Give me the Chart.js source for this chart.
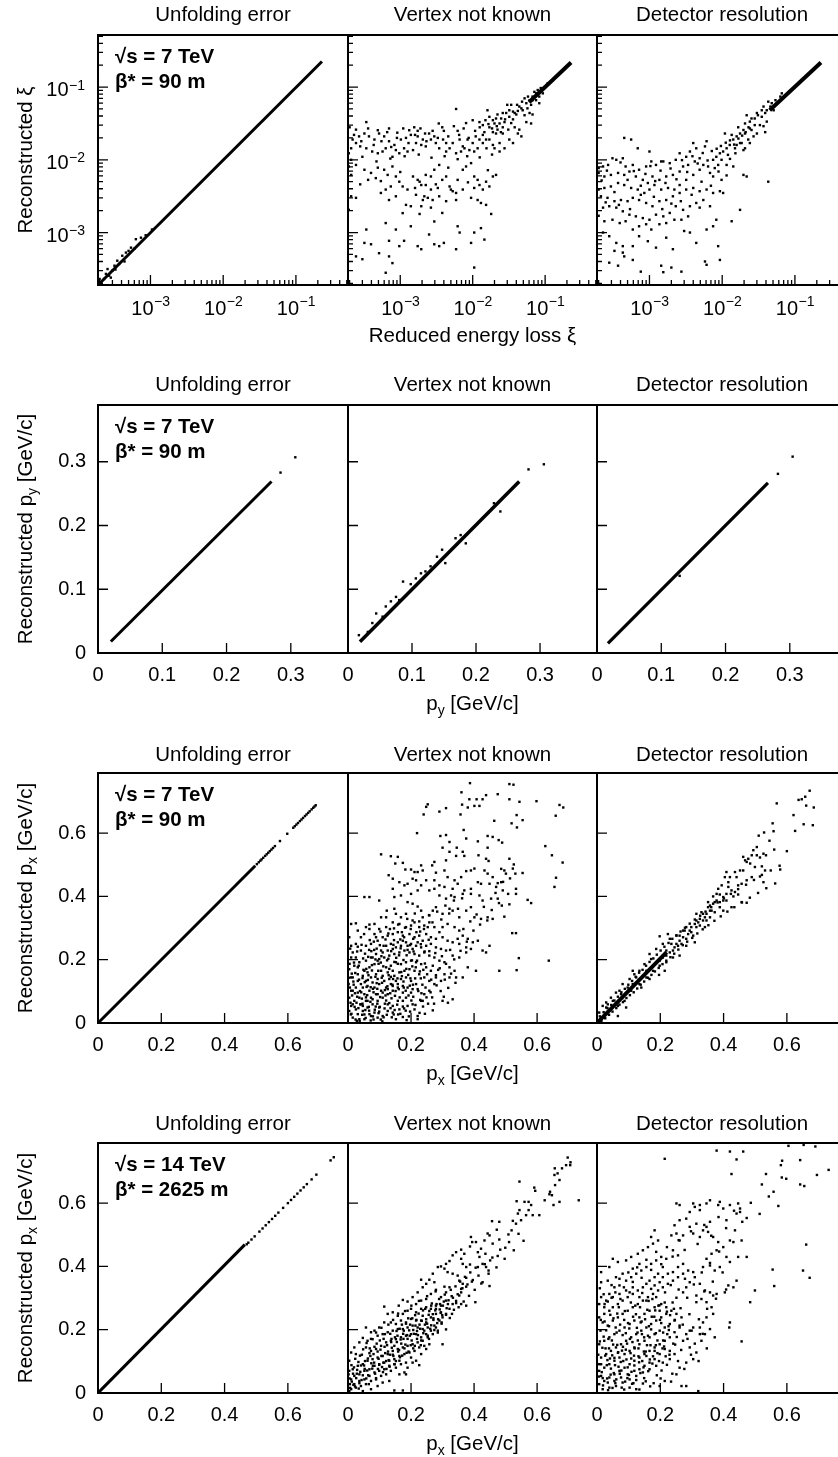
<!DOCTYPE html>
<html><head><meta charset="utf-8">
<script src="https://cdn.jsdelivr.net/npm/chart.js@4.4.1/dist/chart.umd.min.js"></script>
<style>
html,body{margin:0;padding:0;background:#fff;}
body{width:838px;height:1457px;overflow:hidden;position:relative;font-family:'Liberation Sans',Arial,sans-serif;color:#000}
canvas{position:absolute}
.t,.yt,.ann{position:absolute;white-space:nowrap;font-size:20.5px;line-height:1}
.t{transform:translate(-50%,-50%)}
.yt{transform:translate(-50%,-50%) rotate(-90deg)}
.ann{font-weight:bold;transform:translateY(-50%)}
.s{font-size:14px;position:relative;top:5px}
</style></head><body>
<script>
// ---------------- DATA ----------------
const panelTitles = ['Unfolding error','Vertex not known','Detector resolution'];
const xAxisTitles = ['Reduced energy loss ξ','p<span class="s">y</span> [GeV/c]','p<span class="s">x</span> [GeV/c]','p<span class="s">x</span> [GeV/c]'];
const yAxisTitles = ['Reconstructed ξ','Reconstructed p<span class="s">y</span> [GeV/c]','Reconstructed p<span class="s">x</span> [GeV/c]','Reconstructed p<span class="s">x</span> [GeV/c]'];
const annotations = [['√s = 7 TeV','β* = 90 m'],['√s = 7 TeV','β* = 90 m'],['√s = 7 TeV','β* = 90 m'],['√s = 14 TeV','β* = 2625 m']];

const xiRange = [1.9e-4, 0.52];
const pyRange = [0, 0.389];
const pxRange = [0, 0.79];
const xiTickExps = [-3, -2, -1];
const pyTicks = [0, 0.1, 0.2, 0.3];
const pxTicks = [0, 0.2, 0.4, 0.6];

// Row 1: reduced energy loss xi (log-log)
const xiUnfoldLine = [[1.9e-4,1.9e-4],[.228,.225]];
const xiUnfoldPts = [[2.1e-4,2.07e-4],[2.44e-4,2.7e-4],[2.7e-4,2.55e-4],[3.2e-4,3.5e-4],[3.5e-4,4.1e-4],[4.1e-4,4.8e-4],[4.6e-4,5.3e-4],[5.4e-4,6.2e-4],[6.3e-4,8.1e-4],[7.4e-4,8.5e-4],[2.3e-4,2.3e-4],[3.0e-4,3.0e-4],[2.57e-4,3.15e-4],[3.7e-4,3.7e-4],[2.85e-4,2.4e-4],[4.4e-4,4.0e-4],[5.0e-4,5.6e-4],[2.0e-4,2.3e-4],[3.3e-4,3.1e-4],[8.6e-4,9.2e-4],[1.05e-3,1.1e-3],[6.0e-4,6.0e-4]];
const xiVertexBand = [[.06,.062],[.228,.218]];
const xiVertexPts = [[5.9e-3,.05],[.030,.057],[3.4e-4,.033],[2.0e-4,.028],[2.45e-4,.026],[4.9e-4,.0255],[7.0e-4,.027],[9.1e-4,.0236],[1.33e-3,.0255],[1.74e-3,.025],[1.56e-3,.028],[2.2e-3,.023],[3.4e-3,.0316],[4.0e-3,.025],[6.2e-3,.025],[8.1e-3,.032],[.010,.035],[.0124,.033],[.0138,.030],[.015,.035],[.017,.028],[.020,.0316],[.022,.042],[.0247,.037],[.0275,.033],[.029,.044],[.032,.039],[.036,.046],[.040,.042],[.044,.054],[.049,.048],[.055,.060],[.061,.066],[.067,.074],[.075,.082],[.083,.074],[.064,.057],[.052,.041],[.057,.051],[.055,.033],[.064,.0316],[.044,.026],[.038,.028],[.026,.023],[.0235,.017],[.019,.016],[.0155,.0144],[.017,.019],[.021,.023],[.0124,.019],[.011,.021],[.0138,.022],[.010,.017],[8.5e-3,.019],[7.3e-3,.0153],[6.9e-3,.013],[5.9e-3,.0123],[4.8e-3,.0144],[4.3e-3,.017],[3.9e-3,.019],[3.1e-3,.017],[2.65e-3,.019],[2.25e-3,.0153],[1.95e-3,.016],[1.65e-3,.017],[1.5e-3,.0136],[1.26e-3,.013],[1.13e-3,.0144],[9.7e-4,.0123],[8.7e-4,.0136],[7.8e-4,.011],[6.3e-4,.0144],[5.7e-4,.013],[4.9e-4,.0123],[4.1e-4,.013],[3.4e-4,.0144],[2.8e-4,.0153],[2.45e-4,.017],[2.1e-4,.0144],[1.95e-4,.0123],[2.2e-4,.019],[2.7e-4,.021],[3.2e-4,.023],[3.7e-4,.021],[4.4e-4,.019],[5.1e-4,.023],[6.0e-4,.021],[7.0e-4,.018],[8.3e-4,.016],[1.02e-3,.019],[1.2e-3,.020],[1.4e-3,.022],[1.74e-3,.021],[2.05e-3,.019],[2.5e-3,.023],[2.95e-3,.021],[3.45e-3,.0144],[4.3e-3,.013],[5.3e-3,.017],[6.6e-3,.019],[7.7e-3,.0144],[9e-3,.0136],[.0105,.013],[.0117,.0144],[.0138,.017],[.0153,.019],[.020,.0144],[.0235,.013],[.0275,.0144],[.032,.019],[.036,.017],[.042,.023],[.047,.021],[2.1e-4,.01],[1.95e-4,8.1e-3],[2.45e-4,8.5e-3],[3.2e-4,7.3e-3],[3.95e-4,6.6e-3],[3.6e-4,5.3e-3],[4.6e-4,5.6e-3],[5.4e-4,5.1e-3],[6.0e-4,7.3e-3],[6.7e-4,6.2e-3],[7.8e-4,8.1e-3],[8.7e-4,5.9e-3],[9.7e-4,5.0e-3],[7.4e-4,4.3e-3],[6.3e-4,3.9e-3],[5.4e-4,3.5e-3],[8.7e-4,3.15e-3],[7.0e-4,2.8e-3],[1.08e-3,4.3e-3],[1.26e-3,3.9e-3],[1.5e-3,5.9e-3],[1.74e-3,5.3e-3],[1.95e-3,4.5e-3],[2.25e-3,6.2e-3],[2.65e-3,5.9e-3],[2.95e-3,7.3e-3],[3.45e-3,8.5e-3],[3.8e-3,5.3e-3],[4.3e-3,5.9e-3],[4.8e-3,4.3e-3],[5.3e-3,3.7e-3],[6.2e-3,5.3e-3],[7.3e-3,7.3e-3],[8.1e-3,8.1e-3],[9.5e-3,9e-3],[.0105,5.9e-3],[.0117,5.3e-3],[.0124,4.5e-3],[.0138,3.9e-3],[.0105,4.1e-3],[9.5e-3,3.0e-3],[.0117,2.8e-3],[.013,2.55e-3],[.0153,2.4e-3],[.019,5.9e-3],[.021,6.2e-3],[.0153,5.0e-3],[.017,4.3e-3],[7.3e-3,3.9e-3],[5.9e-3,3.5e-3],[4.3e-3,2.7e-3],[3.45e-3,3.15e-3],[2.8e-3,2.8e-3],[2.4e-3,3.0e-3],[2.15e-3,3.15e-3],[1.95e-3,2.3e-3],[1.65e-3,3.3e-3],[1.4e-3,2.3e-3],[1.2e-3,2.4e-3],[1.08e-3,1.85e-3],[1.85e-3,1.8e-3],[2.65e-3,2.2e-3],[1.4e-3,1.22e-3],[1.13e-3,7.7e-4],[9.7e-4,6.5e-4],[8.7e-4,1.1e-3],[7.0e-4,7.7e-4],[6.3e-4,1.35e-3],[5.1e-4,5.2e-4],[3.4e-4,1.1e-3],[3.2e-4,7.2e-4],[3.95e-4,6.9e-4],[2.45e-4,4.7e-4],[3.0e-4,4.3e-4],[7.0e-4,4.7e-4],[7.8e-4,3.8e-4],[6.3e-4,2.8e-4],[1.74e-3,6.5e-4],[1.95e-3,5.9e-4],[2.5e-3,9.4e-4],[2.95e-3,6.9e-4],[3.45e-3,6.5e-4],[4.0e-3,7.2e-4],[5.9e-3,5.9e-4],[6.6e-3,1.0e-3],[6.2e-3,1.22e-3],[9.5e-3,7.2e-4],[.0105,1.0e-3],[.013,1.15e-3],[.0145,8e-4],[.0105,3.3e-4],[.018,1.8e-3],[3.8e-3,1.86e-3],[2.95e-3,1.42e-3],[2.05e-3,2.8e-3],[5.9e-3,2.8e-3],[5.0e-3,3.9e-3],[2.65e-3,3.9e-3],[2.25e-3,4.5e-3],[1.85e-3,5.0e-3],[3.3e-3,4.1e-3],[2.1e-4,6.2e-3],[2.1e-4,3.15e-3],[1.95e-4,2.05e-3],[2.45e-4,3.0e-3],[.038,.044],[.042,.047],[.047,.051],[.041,.057],[.048,.063],[.052,.070],[.058,.074],[.067,.066],[.071,.086],[.079,.091],[.087,.097],[.098,.1],[.093,.082],[.108,.112],[.075,.066],[.083,.060],[.061,.044],[.067,.042],[.036,.036],[.034,.032],[.0235,.0316],[.026,.028],[.031,.026],[.022,.026],[.019,.024],[.017,.039],[.016,.048],[.019,.035],[.021,.037],[.026,.044],[.032,.048],[.034,.057],
[2.3e-4,.022],[2.9e-4,.018],[3.6e-4,.027],[4.3e-4,.016],[5.5e-4,.018],[6.6e-4,.024],[7.5e-4,.015],[9.0e-4,.02],[1.1e-3,.027],[1.3e-3,.017],[1.6e-3,.022],[1.9e-3,.027],[2.3e-3,.018],[2.8e-3,.025],[3.3e-3,.02],[3.8e-3,.028],[4.6e-3,.021],[5.5e-3,.029],[6.5e-3,.022],[7.5e-3,.027],[8.8e-3,.02],[.0108,.025],[.0125,.028],[.0145,.024],[.0165,.031],[.0185,.027],[.0215,.029],[.0245,.024],[.028,.036],[3.0e-4,.011],[4.7e-4,9.5e-3],[7.3e-4,.0104],[1.15e-3,.0112],[1.8e-3,.0118],[2.7e-3,.0107],[4.1e-3,.0112],[6.2e-3,.0102],[8.4e-3,.0112],[.0125,.0108],[.0185,.0118],[2.8e-4,4.6e-3],[4.9e-4,7.8e-3],[1.0e-3,6.8e-3],[1.6e-3,4.1e-3],[3.1e-3,4.6e-3],[4.6e-3,7.8e-3],[8.6e-3,4.9e-3],[.0162,7.2e-3]];
const xiDetBand = [[.045,.048],[.228,.218]];
const xiDetPts = [[.043,.063],[.037,.054],[.031,.041],[.028,.037],[.024,.0335],[.0217,.041],[.0196,.0257],[.0176,.023],[.0158,.021],[.0142,.019],[.0127,.016],[.0115,.0144],[.0103,.013],[9.3e-3,.0123],[8.3e-3,.011],[7.5e-3,.01],[.0109,.023],[.0135,.022],[.0166,.028],[.0206,.0316],[.0253,.0257],[.033,.030],[.0228,.019],[.0185,.017],[.015,.0144],[.012,.0117],[9.8e-3,.01],[8.8e-3,8.5e-3],[7.9e-3,7.7e-3],[.0115,8.5e-3],[.0142,8.1e-3],[.0196,6.2e-3],[.0217,5.9e-3],[.0176,2.05e-3],[.0135,1.43e-3],[.043,5.0e-3],[9.8e-3,5.3e-3],[7.5e-3,5.9e-3],[6.8e-3,6.6e-3],[6.1e-3,.018],[5.8e-3,.0153],[4.4e-3,.0144],[4.0e-3,.017],[3.6e-3,.013],[3.2e-3,.011],[2.6e-3,.0123],[2.3e-3,.01],[1.9e-3,9.0e-3],[1.55e-3,9.5e-3],[1.23e-3,8.5e-3],[1.06e-3,9.5e-3],[9.0e-4,8.1e-3],[7.2e-4,7.3e-3],[5.9e-4,8.5e-3],[4.7e-4,8.1e-3],[4.3e-4,.0105],[3.5e-4,.01],[3.1e-4,.0105],[2.7e-4,8.5e-3],[2.3e-4,8.1e-3],[2.0e-4,7.7e-3],[2.0e-4,6.6e-3],[2.4e-4,5.9e-3],[2.95e-4,6.2e-3],[3.7e-4,6.6e-3],[4.5e-4,6.2e-3],[5.3e-4,6.9e-3],[6.5e-4,5.9e-3],[8.1e-4,5.3e-3],[9.5e-4,4.8e-3],[1.1e-3,5.9e-3],[1.37e-3,5.3e-3],[1.7e-3,5.9e-3],[2.1e-3,6.2e-3],[2.6e-3,6.9e-3],[2.9e-3,8.1e-3],[3.4e-3,8.5e-3],[4.2e-3,9.5e-3],[4.9e-3,.0105],[5.5e-3,8.5e-3],[6.4e-3,8.1e-3],[4.9e-3,7.3e-3],[4.0e-3,6.2e-3],[3.2e-3,5.3e-3],[2.6e-3,4.5e-3],[2.2e-3,3.9e-3],[1.8e-3,4.1e-3],[1.45e-3,3.9e-3],[1.17e-3,4.5e-3],[1.0e-3,3.9e-3],[8.5e-4,3.5e-3],[6.9e-4,3.9e-3],[5.6e-4,4.1e-3],[4.5e-4,4.5e-3],[3.7e-4,4.8e-3],[2.95e-4,4.3e-3],[2.4e-4,4.1e-3],[2.0e-4,3.9e-3],[2.15e-4,3.15e-3],[2.65e-4,3.0e-3],[3.3e-4,2.7e-3],[4.05e-4,2.8e-3],[5.0e-4,2.7e-3],[5.9e-4,3.0e-3],[7.2e-4,2.8e-3],[9.0e-4,2.55e-3],[1.1e-3,2.3e-3],[1.37e-3,2.7e-3],[1.7e-3,2.8e-3],[2.1e-3,3.15e-3],[2.6e-3,3.5e-3],[3.2e-3,3.9e-3],[4.0e-3,4.1e-3],[4.9e-3,3.7e-3],[6.1e-3,3.9e-3],[7.5e-3,3.5e-3],[9.3e-3,3.7e-3],[5.5e-3,2.8e-3],[4.4e-3,2.55e-3],[3.6e-3,2.3e-3],[2.9e-3,2.05e-3],[2.3e-3,2.3e-3],[1.9e-3,1.86e-3],[1.55e-3,1.67e-3],[1.23e-3,1.76e-3],[1.0e-3,1.5e-3],[8.1e-4,1.58e-3],[6.5e-4,1.67e-3],[5.3e-4,1.76e-3],[4.3e-4,1.96e-3],[3.5e-4,2.2e-3],[2.8e-4,2.3e-3],[2.3e-4,2.2e-3],[2.0e-4,1.7e-3],[2.4e-4,1.43e-3],[3.1e-4,1.5e-3],[3.9e-4,1.35e-3],[4.7e-4,1.43e-3],[5.9e-4,1.1e-3],[7.2e-4,1.22e-3],[9.0e-4,1.3e-3],[1.06e-3,1.1e-3],[1.37e-3,1.3e-3],[1.7e-3,1.35e-3],[2.2e-3,1.5e-3],[2.75e-3,1.5e-3],[3.4e-3,1.67e-3],[4.9e-3,2.2e-3],[6.8e-3,2.3e-3],[8.3e-3,1.5e-3],[.0103,3.5e-3],[4.5e-4,.020],[5.6e-4,.019],[6.9e-4,.0144],[1.0e-3,.013],[1.45e-3,9.5e-3],[2.3e-4,1.0e-3],[2.8e-4,8.9e-4],[3.5e-4,7.2e-4],[4.3e-4,6.5e-4],[3.3e-4,5.6e-4],[2.8e-4,3.85e-4],[4.3e-4,5.3e-4],[5.9e-4,6.5e-4],[7.2e-4,8.9e-4],[9.5e-4,7.6e-4],[1.23e-3,6.2e-4],[1.7e-3,8.5e-4],[2.1e-3,5.9e-4],[3.0e-3,1.05e-3],[3.6e-3,1.0e-3],[4.4e-3,7.2e-4],[6.1e-3,1.1e-3],[7.5e-3,1.22e-3],[8.8e-3,6.5e-4],[5.8e-3,4.0e-4],[6.1e-3,3.6e-4],[9.3e-3,4.2e-4],[1.45e-3,3.5e-4],[1.55e-3,2.85e-4],[2.0e-3,3.3e-4],[2.75e-3,2.9e-4],[7.6e-4,2.9e-4],[5.9e-4,4.2e-4],[4.5e-4,4.7e-4],[3.7e-4,3.5e-4],[.035,.039],[.039,.044],[.041,.048],[.046,.054],[.048,.06],[.054,.066],[.056,.06],[.063,.074],[.066,.082],[.051,.048],[.041,.0335],[.037,.029],[.030,.023],[.027,.021],[.028,.030],[.024,.027],[.0206,.023],[.0253,.037],[.030,.044],[.035,.048],[.0176,.017],[.0158,.016],[.039,.024],[.0196,.0136],[.0206,.0144],[.024,.017],
[2.2e-4,5.2e-3],[2.6e-4,7.1e-3],[3.3e-4,3.6e-3],[4.0e-4,9.2e-3],[5.0e-4,5.3e-3],[6.1e-4,7.0e-3],[7.6e-4,4.4e-3],[8.8e-4,6.4e-3],[1.03e-3,8.2e-3],[1.2e-3,5.1e-3],[1.42e-3,7.1e-3],[1.66e-3,4.8e-3],[1.95e-3,7.6e-3],[2.35e-3,5.4e-3],[2.8e-3,9.9e-3],[3.3e-3,6.8e-3],[3.9e-3,.0112],[4.6e-3,8.9e-3],[5.4e-3,.0124],[6.3e-3,.0098],[7.2e-3,.0132],[8.4e-3,.0142],[9.6e-3,.0155],[.0112,.0172],[.0128,.0185],[.0146,.0162],[.0167,.0196],[.0188,.0215],[.021,.024],[.023,.028],[2.5e-4,2.6e-3],[3.8e-4,2.4e-3],[5.4e-4,2.1e-3],[7.6e-4,3.3e-3],[1.15e-3,3.1e-3],[1.5e-3,2.1e-3],[2.0e-3,2.5e-3],[2.7e-3,2.7e-3],[3.8e-3,3.3e-3],[5.2e-3,5.0e-3],[7.0e-3,4.4e-3],[8.9e-3,6.9e-3],[.0115,6.1e-3],[.0128,.0103],[.0152,.0123]];

// Row 2: p_y (7 TeV, 90 m)
const pyUnfoldLine = [[.020,.018],[.270,.269]];
const pyUnfoldPts = [[.284,.283],[.307,.307]];
const pyVertexLine = [[.0187,.0178],[.2675,.269]];
const pyVertexPts = [[.017,.028],[.044,.062],[.067,.081],[.075,.088],[.086,.112],[.080,.083],[.098,.108],[.121,.128],[.147,.162],[.152,.141],[.176,.185],[.184,.172],[.228,.235],[.238,.222],[.031,.033],[.038,.047],[.054,.057],[.059,.073],[.106,.117],[.114,.125],[.129,.136],[.139,.151],[.168,.180],[.282,.288],[.306,.296]];
const pyDetLine = [[.017,.015],[.266,.267]];
const pyDetPts = [[.2815,.281],[.3044,.308],[.1286,.121]];

// Row 3: p_x (7 TeV, 90 m)
const px7UnfoldLine = [[0,0],[.497,.497]];
const px7UnfoldPts = [[.502,.502],[.508,.508],[.513,.513],[.517,.517],[.522,.522],[.528,.528],[.533,.533],[.538,.538],[.543,.543],[.548,.548],[.553,.553],[.559,.559],[.575,.575],[.598,.598],[.617,.617],[.622,.622],[.627,.627],[.632,.632],[.638,.638],[.643,.643],[.648,.648],[.654,.654],[.659,.659],[.664,.664],[.669,.669],[.675,.675],[.680,.680],[.684,.684],[.688,.688]];
const px7VertexPts = [[.387,.758],[.512,.755],[.525,.753],[.360,.729],[.475,.723],[.438,.720],[.385,.707],[.408,.707],[.427,.707],[.512,.707],[.544,.699],[.598,.701],[.253,.691],[.248,.683],[.362,.690],[.401,.686],[.417,.686],[.380,.681],[.311,.679],[.290,.668],[.240,.659],[.357,.659],[.671,.689],[.683,.681],[.659,.655],[.464,.639],[.554,.641],[.519,.631],[.536,.618],[.535,.657],[.219,.600],[.367,.610],[.293,.591],[.311,.594],[.322,.572],[.375,.583],[.443,.591],[.459,.588],[.478,.578],[.489,.570],[.412,.574],[.300,.554],[.345,.554],[.364,.541],[.443,.554],[.322,.541],[.311,.514],[.343,.528],[.369,.528],[.414,.530],[.438,.519],[.446,.512],[.512,.519],[.526,.501],[.523,.488],[.496,.482],[.486,.487],[.626,.559],[.647,.530],[.681,.507],[.660,.459],[.655,.430],[.105,.533],[.136,.527],[.158,.525],[.150,.504],[.174,.506],[.200,.485],[.182,.485],[.232,.498],[.237,.482],[.211,.477],[.221,.477],[.274,.509],[.267,.498],[.279,.475],[.306,.482],[.316,.461],[.338,.451],[.359,.461],[.375,.480],[.390,.482],[.401,.488],[.433,.482],[.443,.472],[.459,.461],[.475,.442],[.486,.445],[.501,.472],[.531,.472],[.554,.474],[.129,.467],[.142,.456],[.163,.445],[.179,.435],[.189,.440],[.205,.456],[.216,.451],[.232,.435],[.248,.451],[.274,.451],[.290,.435],[.306,.430],[.332,.424],[.348,.440],[.369,.419],[.390,.424],[.412,.445],[.422,.440],[.449,.440],[.470,.430],[.491,.419],[.533,.424],[.533,.408],[.570,.389],[.581,.379],[.142,.424],[.147,.398],[.168,.403],[.200,.408],[.221,.419],[.258,.419],[.274,.424],[.290,.403],[.311,.393],[.327,.403],[.338,.398],[.364,.408],[.390,.408],[.417,.403],[.427,.387],[.454,.393],[.475,.393],[.488,.371],[.512,.375],[.052,.398],[.068,.398],[.010,.313],[.025,.315],[.068,.311],[.099,.387],[.105,.334],[.123,.355],[.147,.361],[.152,.345],[.168,.334],[.184,.345],[.189,.382],[.205,.377],[.221,.368],[.232,.355],[.258,.340],[.269,.355],[.279,.366],[.300,.345],[.322,.361],[.332,.355],[.353,.334],[.375,.355],[.390,.366],[.401,.334],[.422,.329],[.443,.334],[.459,.329],[.496,.336],[.521,.284],[.533,.284],[.542,.205],[.637,.197],[.535,.167],[.480,.165],[.406,.165],[.380,.176],[.364,.144],[.343,.144],[.438,.223],[.427,.229],[.449,.244],[.412,.260],[.396,.255],[.380,.266],[.364,.276],[.353,.292],[.338,.303],[.316,.313],[.300,.303],[.290,.287],[.274,.303],[.258,.318],[.242,.308],[.226,.303],[.211,.318],[.200,.308],[.184,.303],[.163,.313],[.142,.318],[.121,.303],[.099,.297],[.084,.281],[.068,.297],[.041,.271],[.025,.250],[.010,.244],[.015,.223],[.041,.229],[.057,.244],[.073,.250],[.094,.260],[.110,.271],[.126,.276],[.142,.281],[.158,.287],[.174,.276],[.195,.281],[.211,.271],[.226,.276],[.248,.281],[.263,.271],[.279,.266],[.300,.271],[.316,.260],[.332,.255],[.353,.250],[.375,.239],[.390,.234],[.375,.223],[.353,.207],[.332,.213],[.311,.229],[.295,.234],[.279,.239],[.263,.250],[.248,.244],[.232,.239],[.216,.244],[.200,.250],[.184,.255],[.168,.244],[.152,.239],[.136,.250],[.121,.244],[.105,.229],[.089,.218],[.073,.207],[.057,.197],[.036,.192],[.020,.181],[.004,.170],[.010,.144],[.031,.154],[.052,.165],[.068,.176],[.084,.186],[.099,.202],[.115,.207],[.131,.213],[.147,.218],[.163,.223],[.179,.229],[.195,.223],[.211,.218],[.226,.213],[.242,.223],[.258,.213],[.274,.207],[.290,.197],[.306,.192],[.322,.176],[.338,.165],[.322,.144],[.306,.154],[.295,.133],[.279,.144],[.263,.165],[.248,.176],[.232,.186],[.216,.192],[.200,.197],[.184,.192],[.168,.186],[.152,.192],[.136,.181],[.121,.176],[.105,.165],[.089,.154],[.073,.144],[.057,.133],[.041,.123],[.025,.112],[.010,.102],[.004,.080],[.020,.070],[.036,.080],[.052,.091],[.068,.102],[.084,.112],[.099,.123],[.115,.133],[.131,.139],[.147,.149],[.163,.160],[.179,.165],[.195,.170],[.211,.165],[.226,.154],[.242,.144],[.258,.133],[.274,.123],[.258,.102],[.242,.091],[.232,.070],[.205,.059],[.184,.080],[.174,.096],[.158,.112],[.142,.102],[.126,.091],[.110,.080],[.094,.070],[.078,.059],[.062,.049],[.047,.038],[.031,.028],[.015,.017],[.004,.038],[.010,.054],[.041,.059],[.057,.070],[.073,.080],[.089,.091],[.105,.102],[.121,.112],[.136,.123],[.152,.133],[.168,.139],[.184,.144],[.200,.133],[.216,.123],[.221,.107],[.200,.096],[.189,.054],[.163,.043],[.142,.054],[.126,.038],[.110,.022],[.094,.017],[.073,.022],[.052,.012],[.036,.012],[.221,.022],[.221,.012],[.152,.012],[.174,.019],[.269,.040],[.300,.070],[.332,.075],[.237,.070],[.211,.043],[.015,.059],[.025,.043],[.047,.054],[.062,.070],[.078,.075],[.094,.091],[.110,.096],[.126,.107],[.142,.117],[.158,.123],[.174,.117],[.189,.112],[.205,.107],[.174,.070],[.158,.070],[.142,.033],[.126,.059],[.099,.049],[.084,.033],[.068,.028],[.015,.102],[.031,.096],[.047,.112],[.062,.117],[.078,.128],[.094,.139],[.110,.149],[.126,.160],[.142,.165],[.015,.144],[.031,.133],[.047,.149],[.062,.160],[.078,.207],[.094,.197],[.110,.223],[.126,.229],[.142,.234],[.158,.255],[.174,.260],[.189,.244],[.205,.234],[.221,.255],[.237,.260],[.253,.303],[.205,.324],[.237,.334],[.121,.334],[.084,.313],[.057,.303],[.031,.292],[.004,.271],[.010,.207],[.002,.123],[.025,.207],
[.013,.087],[.027,.064],[.038,.101],[.044,.077],[.053,.129],[.061,.088],[.066,.051],[.072,.113],[.081,.097],[.087,.146],[.093,.061],[.102,.082],[.108,.127],[.117,.104],[.121,.071],[.129,.151],[.134,.094],[.141,.121],[.149,.086],[.157,.141],[.161,.107],[.169,.161],[.176,.131],[.183,.102],[.191,.152],[.196,.118],[.204,.179],[.213,.141],[.219,.197],[.228,.163],[.236,.121],[.244,.188],[.251,.154],[.017,.131],[.023,.158],[.034,.181],[.046,.142],[.058,.171],[.064,.209],[.076,.166],[.083,.231],[.097,.187],[.106,.211],[.113,.244],[.124,.198],[.137,.227],[.146,.262],[.153,.206],[.167,.236],[.178,.271],[.186,.214],[.197,.246],[.208,.226],[.217,.287],[.231,.249],[.243,.226],[.256,.263],[.011,.029],[.024,.011],[.033,.047],[.045,.026],[.056,.016],[.067,.039],[.079,.021],[.088,.052],[.097,.031],[.104,.011],[.116,.046],[.123,.026],[.131,.063],[.139,.018],[.148,.041],[.156,.058],[.166,.029],[.178,.046],[.193,.021],[.201,.071],[.214,.057],[.227,.032],[.238,.052],[.249,.081],[.262,.097],[.273,.061],[.281,.119],[.294,.101],[.307,.137],[.318,.111],[.327,.156],[.341,.127],[.019,.191],[.029,.226],[.043,.247],[.054,.219],[.069,.262],[.082,.257],[.091,.235],[.103,.289],[.119,.264],[.133,.297],[.144,.247],[.159,.311],[.171,.287],[.188,.329],[.199,.297],[.212,.346],[.226,.321],[.241,.297],[.257,.341],[.268,.318],[.283,.352],[.296,.327],[.309,.371],[.321,.346],[.336,.387],[.349,.361],[.362,.394],[.258,.227],[.269,.181],[.277,.221],[.286,.168],[.298,.211],[.311,.187],[.324,.231],[.337,.201],[.348,.266],[.357,.228],[.366,.297],[.377,.257],[.388,.321],[.398,.292],[.408,.343],[.419,.311],[.431,.367],[.442,.324],[.456,.357],[.468,.411],[.479,.379],[.492,.446],[.508,.408],[.514,.457],[.037,.006],[.072,.008],[.109,.005],[.145,.027],[.186,.009],[.006,.112],[.005,.187],[.007,.235],[.183,.039],[.207,.083],[.233,.094],[.246,.112],[.264,.137],[.279,.151],[.291,.173],[.304,.083],[.317,.064],
[.008,.064],[.018,.121],[.029,.083],[.035,.137],[.042,.097],[.049,.168],[.055,.041],[.059,.114],[.065,.151],[.071,.067],[.076,.183],[.079,.108],[.085,.042],[.091,.126],[.096,.165],[.101,.051],[.107,.143],[.112,.179],[.119,.087],[.125,.116],[.131,.171],[.138,.078],[.143,.139],[.151,.101],[.158,.187],[.164,.081],[.171,.148],[.177,.112],[.185,.171],[.192,.087],[.198,.141],[.206,.121],[.215,.176],[.223,.101],[.231,.141],[.239,.168],[.012,.156],[.022,.094],[.031,.176],[.039,.059],[.048,.204],[.057,.081],[.063,.136],[.074,.227],[.087,.201],[.093,.108],[.104,.191],[.117,.061],[.128,.203],[.136,.146],[.147,.193],[.162,.214],[.176,.199],[.189,.231],[.203,.198],[.003,.143],[.009,.027],[.021,.051],[.028,.007],[.046,.061],[.052,.027],[.081,.011],[.099,.036],[.113,.018],[.135,.047],[.159,.027],[.174,.052],[.197,.036],[.229,.073],[.244,.029],[.254,.061],[.267,.081],[.031,.241],[.051,.281],[.067,.231],[.089,.271],[.101,.246],[.128,.283],[.146,.299],[.166,.264],[.181,.301],[.207,.266],[.229,.289]];
const px7DetLine = [[0,0],[.22,.224]];
const px7DetPts = [[.672,.734],[.658,.715],[.647,.707],[.637,.705],[.661,.687],[.685,.681],[.568,.694],[.621,.657],[.653,.628],[.682,.625],[.626,.607],[.555,.631],[.558,.606],[.528,.602],[.511,.592],[.545,.576],[.600,.543],[.560,.548],[.579,.485],[.534,.530],[.515,.523],[.505,.530],[.526,.535],[.494,.546],[.489,.530],[.478,.519],[.468,.514],[.462,.525],[.484,.504],[.521,.495],[.531,.482],[.515,.463],[.526,.445],[.489,.461],[.473,.451],[.457,.440],[.446,.435],[.436,.414],[.431,.400],[.446,.406],[.452,.482],[.436,.477],[.415,.445],[.409,.477],[.404,.461],[.415,.430],[.425,.419],[.409,.408],[.399,.398],[.388,.406],[.383,.424],[.394,.435],[.378,.387],[.367,.400],[.372,.382],[.357,.371],[.351,.366],[.362,.355],[.346,.345],[.341,.334],[.335,.324],[.325,.329],[.314,.324],[.309,.313],[.325,.308],[.341,.303],[.298,.303],[.293,.292],[.288,.281],[.304,.276],[.282,.266],[.272,.271],[.261,.260],[.267,.250],[.256,.244],[.245,.239],[.240,.229],[.230,.223],[.219,.213],[.208,.207],[.198,.197],[.198,.274],[.224,.281],[.166,.218],[.457,.382],[.473,.380],[.425,.366],[.399,.355],[.357,.334],[.314,.345],[.309,.255],[.282,.244],[.261,.213],[.240,.207],[.219,.192],[.198,.181],[.177,.165],[.156,.144],[.134,.123],[.108,.102],[.087,.070],[.066,.054],[.018,.054],[.007,.033],[.034,.059],[.071,.102],[.113,.123],[.156,.165],[.203,.207],[.251,.250],[.298,.287],[.346,.324],[.388,.366],[.219,.229],[.235,.250],[.261,.276],[.277,.292],[.314,.303],[.335,.345],[.367,.377],[.399,.387],[.113,.165],[.124,.144],[.097,.112],[.076,.091],[.050,.070],[.029,.049],[.214,.165],[.196,.152],[.166,.139],[.140,.112],[.092,.049],[.066,.022],[.282,.303],[.320,.318],[.330,.350],[.351,.382],[.378,.408],[.420,.461],[.441,.461],[.462,.482],[.473,.509],[.499,.493],[.505,.556],[.372,.350],[.357,.355],[.388,.382],[.409,.387],[.272,.292],[.251,.276],[.230,.266],[.208,.250],[.187,.234],[.171,.202],[.150,.186],[.134,.165],[.118,.154],[.103,.139],[.081,.123],[.060,.096],[.044,.080],[.029,.065],
[.009,.021],[.014,.006],[.021,.034],[.026,.015],[.033,.047],[.038,.026],[.045,.057],[.049,.036],[.055,.071],[.061,.047],[.066,.083],[.071,.058],[.077,.097],[.082,.066],[.088,.108],[.093,.079],[.099,.121],[.104,.088],[.111,.133],[.116,.097],[.122,.146],[.127,.109],[.133,.159],[.138,.121],[.144,.168],[.149,.131],[.155,.181],[.161,.143],[.166,.193],[.172,.152],[.178,.204],[.183,.163],[.189,.216],[.195,.174],[.201,.229],[.207,.186],[.213,.241],[.219,.197],[.226,.253],[.232,.208],[.238,.266],[.244,.219],[.251,.277],[.257,.232],[.264,.289],[.271,.246],[.278,.301],[.285,.257],[.293,.314],[.301,.269],[.309,.327],[.317,.283],[.326,.339],[.334,.296],[.343,.352],[.352,.309],[.361,.366],[.371,.323],[.381,.381],[.391,.337],[.401,.394],[.412,.352],[.423,.408],[.434,.366],[.446,.423],[.458,.381],[.471,.437],[.483,.396],[.496,.452],[.509,.411],[.521,.468],[.535,.426],[.549,.482],[.563,.441],[.577,.497]];

// Row 4: p_x (14 TeV, 2625 m)
const px14UnfoldLine = [[0,0],[.464,.469]];
const px14UnfoldPts = [[.47,.47],[.475,.475],[.485,.485],[.495,.495],[.51,.51],[.52,.52],[.53,.53],[.54,.54],[.55,.55],[.56,.56],[.57,.57],[.585,.585],[.60,.60],[.61,.61],[.62,.62],[.63,.63],[.64,.64],[.65,.65],[.66,.66],[.675,.675],[.69,.69],[.735,.735],[.745,.745]];
const px14VertexPts = [[.697,.744],[.706,.729],[.705,.720],[.692,.720],[.679,.710],[.656,.710],[.665,.694],[.655,.689],[.671,.673],[.657,.657],[.641,.636],[.639,.628],[.647,.625],[.671,.604],[.732,.609],[.544,.668],[.591,.649],[.594,.639],[.624,.609],[.652,.594],[.573,.604],[.560,.604],[.581,.594],[.573,.578],[.565,.562],[.586,.562],[.607,.562],[.535,.606],[.544,.578],[.539,.567],[.549,.546],[.523,.544],[.533,.535],[.509,.501],[.519,.514],[.480,.541],[.457,.543],[.472,.516],[.443,.504],[.433,.482],[.449,.498],[.459,.472],[.480,.485],[.499,.459],[.475,.433],[.451,.419],[.436,.440],[.422,.456],[.406,.477],[.390,.493],[.394,.477],[.387,.463],[.412,.445],[.417,.430],[.427,.408],[.438,.398],[.446,.387],[.449,.338],[.427,.350],[.404,.287],[.375,.364],[.387,.406],[.375,.398],[.364,.408],[.359,.424],[.369,.440],[.359,.453],[.343,.445],[.332,.435],[.322,.417],[.311,.408],[.295,.400],[.285,.398],[.306,.393],[.316,.382],[.332,.377],[.348,.371],[.353,.355],[.364,.345],[.359,.329],[.353,.308],[.343,.284],[.359,.281],[.375,.276],[.330,.250],[.311,.201],[.300,.154],[.297,.223],[.281,.281],[.295,.303],[.311,.318],[.322,.334],[.279,.326],[.263,.313],[.248,.297],[.232,.292],[.216,.281],[.274,.350],[.258,.358],[.248,.345],[.232,.358],[.269,.377],[.237,.334],[.221,.318],[.205,.303],[.189,.289],[.174,.294],[.161,.276],[.115,.273],[.126,.250],[.142,.255],[.158,.244],[.174,.250],[.189,.260],[.200,.266],[.216,.255],[.232,.266],[.248,.271],[.263,.266],[.279,.250],[.295,.255],[.263,.239],[.248,.223],[.232,.229],[.216,.229],[.200,.234],[.184,.223],[.168,.229],[.152,.218],[.136,.223],[.115,.223],[.099,.207],[.084,.197],[.073,.192],[.057,.207],[.047,.174],[.020,.144],[.010,.128],[.036,.160],[.062,.165],[.078,.170],[.094,.181],[.110,.186],[.126,.192],[.142,.197],[.158,.202],[.174,.202],[.189,.207],[.205,.213],[.221,.207],[.237,.202],[.253,.207],[.274,.213],[.285,.197],[.269,.186],[.253,.176],[.237,.165],[.221,.160],[.205,.154],[.189,.149],[.174,.144],[.158,.139],[.142,.133],[.126,.123],[.110,.117],[.094,.112],[.078,.107],[.062,.102],[.047,.091],[.031,.086],[.015,.075],[.004,.070],[.010,.043],[.020,.054],[.036,.059],[.052,.070],[.068,.075],[.084,.086],[.099,.091],[.115,.096],[.131,.102],[.147,.107],[.163,.117],[.179,.123],[.195,.128],[.211,.133],[.226,.144],[.242,.149],[.258,.154],[.248,.139],[.232,.123],[.216,.102],[.200,.112],[.184,.096],[.168,.091],[.152,.080],[.136,.070],[.121,.059],[.105,.054],[.089,.043],[.073,.038],[.057,.028],[.041,.022],[.025,.017],[.010,.012],[.020,.028],[.036,.038],[.052,.043],[.068,.054],[.084,.065],[.099,.070],[.115,.075],[.131,.086],[.147,.091],[.163,.102],[.179,.065],[.189,.080],[.205,.096],[.226,.088],[.184,.059],[.163,.059],[.131,.038],[.110,.033],[.094,.022],[.073,.012],[.147,.008],[.174,.008],[.047,.006],[.004,.006],[.006,.028],[.002,.059],[.004,.102],[.025,.123],[.057,.144],[.073,.133],[.089,.139],[.105,.149],[.121,.160],[.136,.165],[.152,.170],[.168,.176],[.184,.181],[.200,.186],[.216,.186],[.232,.176],[.248,.186],[.263,.197],[.279,.207],[.290,.229],[.300,.239],[.311,.250],[.322,.266],[.332,.281],[.311,.292],[.295,.276],[.279,.266],
[.012,.036],[.019,.081],[.026,.047],[.033,.098],[.039,.067],[.044,.121],[.051,.087],[.058,.046],[.063,.109],[.069,.141],[.074,.094],[.081,.123],[.086,.061],[.091,.156],[.097,.108],[.103,.137],[.108,.082],[.113,.171],[.118,.126],[.124,.151],[.129,.104],[.134,.187],[.139,.143],[.144,.117],[.149,.176],[.155,.161],[.159,.131],[.164,.203],[.169,.156],[.175,.187],[.179,.141],[.184,.219],[.189,.171],[.194,.198],[.199,.151],[.204,.236],[.209,.187],[.214,.213],[.219,.171],[.224,.251],[.229,.203],[.234,.228],[.239,.189],[.245,.266],[.251,.219],[.256,.247],[.261,.203],[.266,.283],[.271,.236],[.277,.261],[.283,.221],[.289,.297],[.294,.253],[.301,.276],[.307,.311],[.313,.268],[.319,.293],[.326,.326],[.333,.301],[.341,.337],[.348,.312],[.356,.352],[.363,.331],[.371,.367],[.379,.343],[.388,.381],[.396,.357],[.405,.396],[.414,.371],[.007,.016],[.016,.061],[.022,.021],[.029,.073],[.036,.031],[.041,.087],[.047,.056],[.054,.101],[.061,.071],[.066,.028],[.071,.117],[.077,.077],[.083,.096],[.089,.047],[.094,.131],[.099,.089],[.106,.117],[.111,.066],[.116,.146],[.121,.101],[.127,.131],[.132,.083],[.137,.161],[.142,.121],[.147,.149],[.152,.101],[.157,.181],[.162,.136],[.167,.169],[.172,.118],[.177,.197],[.182,.153],[.187,.183],[.192,.131],[.197,.216],[.202,.166],[.207,.199],[.212,.149],[.217,.231],[.222,.183],[.227,.216],[.232,.166],[.237,.244],[.242,.197],[.248,.233],[.253,.181],[.258,.259],[.264,.214],[.269,.249],[.274,.199],[.279,.276],[.286,.233],[.291,.264],[.297,.219],[.304,.289],[.311,.247],[.317,.281],[.323,.237],[.329,.306],[.336,.263],[.343,.291],[.351,.271],[.359,.318],[.367,.289],[.375,.336],[.384,.307],[.393,.352],[.402,.326],[.412,.398],[.423,.346],[.434,.407],[.446,.377],[.458,.428],[.471,.397],[.483,.453],[.497,.424],[.511,.477],[.526,.451],[.541,.503],[.557,.481],
[.005,.046],[.011,.088],[.017,.026],[.023,.108],[.028,.061],[.034,.014],[.038,.118],[.043,.041],[.048,.138],[.053,.076],[.059,.158],[.064,.056],[.068,.126],[.073,.171],[.079,.086],[.084,.146],[.089,.191],[.095,.076],[.101,.166],[.106,.206],[.112,.096],[.117,.186],[.122,.076],[.128,.216],[.133,.121],[.138,.171],[.143,.231],[.148,.091],[.154,.196],[.159,.251],[.165,.113],[.171,.216],[.176,.171],[.181,.259],[.186,.127],[.191,.236],[.196,.181],[.201,.276],[.207,.141],[.213,.246],[.219,.196],[.225,.291],[.231,.151],[.238,.261],[.244,.216],[.251,.306],[.257,.171],[.264,.276],[.271,.231],[.278,.321],[.285,.191],[.292,.281],[.299,.246],[.306,.336]];
const px14DetPts = [[.605,.781],[.653,.784],[.690,.779],[.378,.766],[.420,.763],[.462,.763],[.441,.738],[.642,.736],[.425,.692],[.534,.692],[.585,.734],[.581,.720],[.732,.705],[.695,.689],[.521,.659],[.558,.636],[.584,.681],[.598,.677],[.642,.659],[.655,.654],[.661,.469],[.651,.387],[.672,.364],[.560,.338],[.555,.390],[.484,.287],[.457,.163],[.499,.324],[.214,.740],[.420,.482],[.441,.567],[.409,.546],[.452,.572],[.473,.553],[.436,.514],[.457,.482],[.431,.477],[.399,.461],[.378,.451],[.362,.440],[.346,.424],[.335,.398],[.357,.403],[.372,.387],[.388,.398],[.409,.430],[.420,.414],[.446,.430],[.473,.430],[.441,.355],[.431,.334],[.415,.340],[.404,.318],[.378,.313],[.367,.308],[.357,.318],[.341,.324],[.325,.345],[.309,.366],[.304,.382],[.293,.350],[.282,.334],[.272,.318],[.314,.308],[.330,.297],[.346,.287],[.362,.271],[.367,.250],[.346,.239],[.335,.223],[.325,.207],[.304,.207],[.293,.197],[.282,.186],[.272,.165],[.293,.144],[.314,.128],[.304,.107],[.282,.096],[.261,.080],[.251,.059],[.267,.022],[.282,.022],[.320,.006],[.330,.165],[.325,.186],[.341,.186],[.357,.202],[.372,.176],[.420,.223],[.418,.207],[.383,.477],[.367,.493],[.351,.509],[.357,.541],[.346,.525],[.335,.514],[.325,.493],[.314,.535],[.304,.504],[.293,.525],[.272,.498],[.261,.482],[.251,.504],[.245,.530],[.261,.546],[.282,.551],[.293,.572],[.309,.588],[.325,.594],[.346,.599],[.357,.609],[.383,.594],[.399,.583],[.420,.594],[.446,.599],[.452,.583],[.388,.604],[.325,.578],[.304,.599],[.261,.594],[.251,.599],[.235,.498],[.240,.451],[.256,.435],[.219,.424],[.208,.398],[.193,.377],[.182,.366],[.166,.355],[.156,.345],[.145,.334],[.129,.324],[.113,.313],[.097,.303],[.081,.292],[.066,.281],[.050,.271],[.039,.260],[.023,.250],[.007,.239],[.018,.223],[.034,.213],[.050,.229],[.066,.239],[.081,.250],[.097,.260],[.113,.271],[.129,.281],[.145,.292],[.161,.303],[.177,.313],[.193,.324],[.208,.334],[.224,.345],[.240,.355],[.256,.366],[.272,.377],[.288,.387],[.272,.408],[.256,.398],[.240,.382],[.224,.377],[.208,.366],[.198,.350],[.182,.340],[.171,.329],[.187,.303],[.203,.281],[.219,.271],[.235,.260],[.251,.250],[.267,.239],[.261,.207],[.245,.192],[.230,.176],[.214,.165],[.198,.154],[.182,.144],[.166,.133],[.150,.123],[.134,.112],[.118,.102],[.103,.091],[.087,.080],[.071,.070],[.055,.059],[.039,.049],[.023,.038],[.007,.028],[.018,.012],[.039,.017],[.060,.022],[.081,.033],[.103,.043],[.124,.054],[.145,.065],[.166,.075],[.187,.086],[.208,.096],[.230,.107],[.245,.123],[.230,.133],[.214,.139],[.198,.123],[.182,.107],[.166,.096],[.150,.086],[.134,.075],[.118,.070],[.097,.059],[.076,.049],[.055,.038],[.034,.033],[.013,.054],[.007,.070],[.023,.080],[.039,.091],[.055,.102],[.071,.112],[.087,.123],[.103,.133],[.118,.144],[.134,.154],[.150,.165],[.166,.176],[.182,.186],[.198,.197],[.214,.207],[.230,.218],[.245,.229],[.219,.250],[.203,.239],[.187,.229],[.171,.218],[.156,.207],[.140,.197],[.124,.186],[.108,.176],[.092,.165],[.076,.154],[.060,.144],[.044,.133],[.029,.123],[.013,.112],[.007,.154],[.023,.165],[.039,.176],[.055,.186],[.071,.197],[.087,.207],[.103,.218],[.118,.229],[.134,.239],[.150,.250],[.166,.260],[.182,.271],[.198,.260],[.156,.292],[.134,.303],[.113,.334],[.092,.324],[.071,.313],[.050,.303],[.029,.292],[.013,.303],[.007,.281],[.023,.271],[.039,.313],[.055,.334],[.071,.340],[.092,.355],[.108,.366],[.124,.377],[.140,.387],[.156,.398],[.171,.408],[.187,.419],[.203,.430],[.134,.408],[.113,.393],[.081,.377],[.060,.366],[.034,.355],[.050,.424],[.066,.414],[.092,.419],[.108,.430],[.129,.440],[.145,.451],[.161,.461],[.177,.472],[.193,.482],[.039,.398],[.013,.382],[.013,.350],[.182,.514],[.171,.493],[.198,.022],[.214,.038],[.145,.030],[.124,.012],[.103,.017],
[.011,.197],[.017,.143],[.024,.226],[.031,.088],[.036,.171],[.042,.247],[.048,.119],[.053,.063],[.059,.207],[.064,.152],[.069,.271],[.075,.098],[.081,.183],[.086,.231],[.091,.137],[.097,.081],[.102,.204],[.107,.286],[.112,.161],[.117,.118],[.123,.249],[.128,.191],[.133,.097],[.138,.223],[.143,.316],[.149,.176],[.154,.131],[.159,.263],[.164,.211],[.169,.151],[.175,.297],[.181,.241],[.186,.189],[.191,.126],[.197,.277],[.203,.221],[.209,.166],[.215,.318],[.221,.257],[.227,.199],[.233,.341],[.239,.286],[.246,.231],[.252,.177],[.258,.327],[.264,.268],[.271,.216],[.278,.361],[.285,.301],[.292,.249],[.299,.197],[.306,.343],[.314,.287],[.322,.233],[.331,.381],[.339,.321],[.348,.266],[.357,.411],[.366,.352],[.376,.298],[.386,.447],[.397,.381],[.408,.327],[.006,.052],[.013,.091],[.019,.024],[.026,.118],[.032,.046],[.038,.141],[.044,.077],[.049,.016],[.055,.111],[.061,.043],[.067,.129],[.072,.061],[.078,.017],[.083,.101],[.089,.036],[.095,.156],[.101,.057],[.106,.126],[.111,.029],[.118,.087],[.124,.041],[.131,.141],[.137,.063],[.143,.101],[.149,.047],[.156,.117],[.162,.069],[.168,.021],[.175,.093],[.182,.133],[.189,.056],[.196,.101],[.204,.071],[.212,.147],[.221,.089],[.229,.121],[.238,.061],[.247,.153],[.256,.101],[.266,.136],[.276,.076],[.286,.171],[.297,.121],[.309,.156],[.321,.101],[.334,.187],[.347,.141],[.009,.331],[.021,.312],[.034,.289],[.046,.341],[.058,.318],[.071,.361],[.085,.334],[.099,.381],[.113,.351],[.127,.397],[.141,.364],[.156,.421],[.171,.389],[.187,.446],[.203,.407],[.221,.461],[.239,.431],[.258,.483],[.277,.452],[.297,.511],[.318,.471],[.339,.531],[.361,.497],[.384,.556],[.408,.521],[.433,.576],[.459,.541],[.486,.601],[.514,.566],[.543,.621],[.573,.591],
[.004,.121],[.009,.163],[.015,.066],[.021,.178],[.027,.141],[.033,.104],[.038,.211],[.043,.058],[.047,.166],[.052,.236],[.057,.088],[.062,.191],[.066,.127],[.073,.216],[.077,.071],[.082,.146],[.088,.259],[.093,.106],[.098,.221],[.104,.171],[.109,.067],[.114,.241],[.119,.141],[.126,.206],[.131,.116],[.136,.271],[.142,.186],[.147,.081],[.152,.233],[.158,.151],[.163,.291],[.171,.201],[.177,.116],[.184,.261],[.191,.166],[.199,.231],[.207,.141],[.214,.286],[.222,.186],[.231,.246],[.241,.156],[.251,.301],[.261,.213],[.007,.091],[.012,.231],[.018,.047],[.024,.281],[.029,.198],[.035,.009],[.041,.109],[.046,.301],[.051,.153],[.058,.031],[.064,.251],[.068,.083],[.074,.297],[.079,.134],[.086,.011],[.091,.189],[.096,.047],[.103,.318],[.108,.109],[.115,.031],[.121,.276],[.129,.166],[.134,.011],[.141,.226],[.148,.131],[.154,.037],[.161,.181],[.167,.106],[.173,.241],[.179,.031],[.186,.151],[.194,.276],[.201,.046],[.209,.191],[.217,.116],[.226,.211],[.234,.036],[.243,.266]];

// ---------------- LAYOUT ----------------
const COL_L = [98, 348, 597], COL_W = [250, 249, 250];
const ROW_T = [35, 405, 773, 1143], ROW_H = [250, 248, 250, 250];
const FONT = "'Liberation Sans', Arial, sans-serif";
Chart.defaults.font.family = FONT;

function logMinor(min, max) {
  const out = [];
  for (let e = -5; e <= 0; e++) for (let m = 2; m <= 9; m++) { const v = m * Math.pow(10, e); if (v > min && v < max) out.push(v); }
  return out;
}
const axes = [
  {log:true, min:xiRange[0], max:xiRange[1], major:xiTickExps.map(e=>Math.pow(10,e)), minor:logMinor(xiRange[0], xiRange[1]), exps:xiTickExps},
  {log:false, min:pyRange[0], max:pyRange[1], step:0.1, major:pyTicks, minor:[]},
  {log:false, min:pxRange[0], max:pxRange[1], step:0.2, major:pxTicks, minor:[]},
  {log:false, min:pxRange[0], max:pxRange[1], step:0.2, major:pxTicks, minor:[]}
];

function scatterDs(pts) {
  return {data: pts.map(p => ({x:p[0], y:p[1]})), showLine:false, pointStyle:'rect', pointRadius:1.7, pointBorderWidth:0, backgroundColor:'#000', borderColor:'#000'};
}
function lineDs(pts, w) {
  return {data: pts.map(p => ({x:p[0], y:p[1]})), showLine:true, pointRadius:0, borderWidth:w, borderColor:'#000', backgroundColor:'#000', fill:false, tension:0};
}

function framePlugin(r, c, ax) {
  return {
    id: 'frame',
    afterDraw(chart) {
      const ctx = chart.ctx, a = chart.chartArea, xs = chart.scales.x, ys = chart.scales.y;
      ctx.save();
      ctx.strokeStyle = '#000';
      ctx.lineWidth = 1.3;
      const drawTicks = (vals, len) => {
        ctx.beginPath();
        for (const v of vals) {
          const px = xs.getPixelForValue(v);
          if (px > a.left + 1 && px < a.right - 1) { ctx.moveTo(px, a.bottom); ctx.lineTo(px, a.bottom - len); }
          const py = ys.getPixelForValue(v);
          if (py > a.top + 1 && py < a.bottom - 1) { ctx.moveTo(a.left, py); ctx.lineTo(a.left + len, py); }
        }
        ctx.stroke();
      };
      drawTicks(ax.major, 10);
      drawTicks(ax.minor, 5);
      ctx.lineWidth = 2;
      ctx.strokeRect(a.left, a.top, a.right - a.left, a.bottom - a.top);
      if (ax.log) {
        ctx.fillStyle = '#000';
        ctx.textBaseline = 'alphabetic';
        ctx.textAlign = 'left';
        for (const e of ax.exps) {
          const v = Math.pow(10, e);
          const base = '10', sup = '\u2212' + Math.abs(e);
          ctx.font = '20px ' + FONT; const wb = ctx.measureText(base).width;
          ctx.font = '14px ' + FONT; const ws = ctx.measureText(sup).width;
          const px = xs.getPixelForValue(v);
          const x0 = px - (wb + ws) / 2;
          ctx.font = '20px ' + FONT; ctx.fillText(base, x0, a.bottom + 30);
          ctx.font = '14px ' + FONT; ctx.fillText(sup, x0 + wb + 0.5, a.bottom + 21);
          if (c === 0) {
            const py = ys.getPixelForValue(v);
            const xr = a.left - 13;
            ctx.font = '14px ' + FONT; ctx.fillText(sup, xr - ws, py + 2.5);
            ctx.font = '20px ' + FONT; ctx.fillText(base, xr - ws - wb - 0.5, py + 9);
          }
        }
      }
      ctx.restore();
    }
  };
}

function scaleOpts(ax, isX, showLabels, fixed) {
  const o = {
    type: ax.log ? 'logarithmic' : 'linear',
    min: ax.min, max: ax.max,
    position: isX ? 'bottom' : 'left',
    grid: {display:false, drawTicks:false},
    border: {display:false},
    ticks: {display: showLabels && !ax.log, font:{family:FONT, size:20}, color:'#000', padding: isX ? 10 : 12, maxRotation:0, minRotation:0, autoSkip:false, includeBounds:false},
    afterFit: s => { if (isX) s.height = fixed; else s.width = fixed; }
  };
  if (!ax.log) o.ticks.stepSize = ax.step;
  return o;
}

function makePanel(r, c, datasets) {
  const padL = c === 0 ? 98 : 30, padR = 15, padT = 30, padB = 40;
  const W = padL + COL_W[c] + padR, H = padT + ROW_H[r] + padB;
  const cv = document.createElement('canvas');
  cv.width = W; cv.height = H;
  cv.style.width = W + 'px'; cv.style.height = H + 'px';
  cv.style.left = (COL_L[c] - padL) + 'px'; cv.style.top = (ROW_T[r] - padT) + 'px';
  document.body.appendChild(cv);
  const ax = axes[r];
  new Chart(cv, {
    type: 'scatter',
    data: {datasets},
    options: {
      animation: false, responsive: false, devicePixelRatio: 1, events: [],
      layout: {padding: {top: padT, right: padR, left: 0, bottom: 0}, autoPadding: false},
      plugins: {legend: {display: false}, tooltip: {enabled: false}, title: {display: false}},
      scales: {x: scaleOpts(ax, true, true, padB), y: scaleOpts(ax, false, c === 0, padL)}
    },
    plugins: [framePlugin(r, c, ax)]
  });
}

// Row 1
makePanel(0, 0, [lineDs(xiUnfoldLine, 3), scatterDs(xiUnfoldPts)]);
makePanel(0, 1, [lineDs(xiVertexBand, 4), scatterDs(xiVertexPts)]);
makePanel(0, 2, [lineDs(xiDetBand, 4), scatterDs(xiDetPts)]);
// Row 2
makePanel(1, 0, [lineDs(pyUnfoldLine, 3), scatterDs(pyUnfoldPts)]);
makePanel(1, 1, [lineDs(pyVertexLine, 3.5), scatterDs(pyVertexPts)]);
makePanel(1, 2, [lineDs(pyDetLine, 3.2), scatterDs(pyDetPts)]);
// Row 3
makePanel(2, 0, [lineDs(px7UnfoldLine, 3), scatterDs(px7UnfoldPts)]);
makePanel(2, 1, [scatterDs(px7VertexPts)]);
makePanel(2, 2, [lineDs(px7DetLine, 4), scatterDs(px7DetPts)]);
// Row 4
makePanel(3, 0, [lineDs(px14UnfoldLine, 3), scatterDs(px14UnfoldPts)]);
makePanel(3, 1, [scatterDs(px14VertexPts)]);
makePanel(3, 2, [scatterDs(px14DetPts)]);

// ---------------- TEXT ----------------
function addText(cls, html, x, y) {
  const d = document.createElement('div');
  d.className = cls; d.innerHTML = html;
  d.style.left = x + 'px'; d.style.top = y + 'px';
  document.body.appendChild(d);
}
const titleY = [14, 384, 754, 1123];
for (let r = 0; r < 4; r++) {
  for (let c = 0; c < 3; c++) addText('t', panelTitles[c], COL_L[c] + COL_W[c] / 2, titleY[r]);
  const bottom = ROW_T[r] + ROW_H[r];
  addText('t', xAxisTitles[r], COL_L[1] + COL_W[1] / 2, bottom + 50);
  addText('yt', yAxisTitles[r], 25, ROW_T[r] + ROW_H[r] / 2);
  addText('ann', annotations[r][0], 115, ROW_T[r] + 21);
  addText('ann', annotations[r][1], 115, ROW_T[r] + 46);
}
</script>
</body></html>
